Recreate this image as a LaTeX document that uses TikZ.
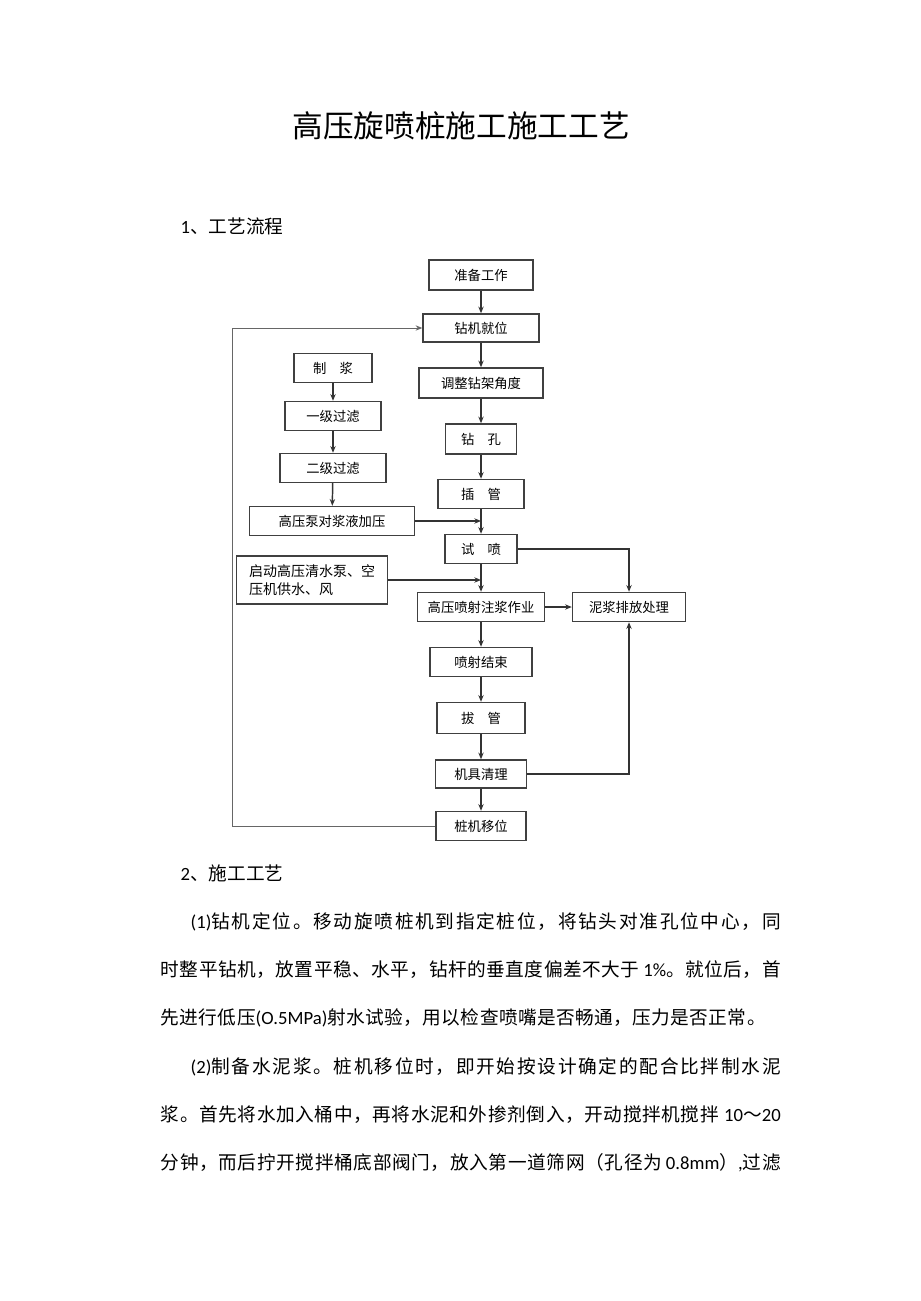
\documentclass[tikz,border=0pt]{standalone}
\usepackage{fontspec}
\usepackage{xcolor}
\usepackage{tikz}
\usetikzlibrary{arrows.meta}

\setmainfont{Noto Sans CJK SC}
\newfontfamily\latfont{Carlito}

% 汉字归为一类, 字间加可伸缩的空隙 (用于两端对齐)
\newcount\cjkcode
\cjkcode="3000
\loop \XeTeXcharclass\cjkcode=1 \advance\cjkcode by 1 \ifnum\cjkcode<"A000 \repeat
\cjkcode="FF00
\loop \XeTeXcharclass\cjkcode=1 \advance\cjkcode by 1 \ifnum\cjkcode<"FFF0 \repeat
\XeTeXinterchartokenstate=1
\newcommand\chargap[2]{\XeTeXinterchartoks #1 #2 = {\hskip 0pt plus 1pt\relax}}
\chargap01 \chargap10 \chargap11

\begin{document}
\begin{tikzpicture}[x=0.75pt, y=-0.75pt, line width=1.1pt,
    box/.style={draw=black!75, fill=white, inner sep=0pt, minimum height=21.75pt,
        font=\fontsize{10pt}{12pt}\selectfont},
    flow/.style={-{Stealth[length=5pt,width=4pt]}, draw=black!80},
    body/.style={anchor=west, inner sep=0pt, font=\fontsize{14pt}{17pt}\selectfont}]
    \fill[white] (0,0) rectangle (920,1301);
    \useasboundingbox (0,0) rectangle (920,1301);

    % 标题
    \node[inner sep=0pt, font=\fontsize{23pt}{26pt}\selectfont] (title) at (460,126)
        {\makebox[251.25pt][s]{高压旋喷桩施工施工工艺}};
    \node[body] (sec1) at (180,226) {{\latfont 1}、工艺流程};

    % 主线
    \node[box, minimum width=78pt, minimum height=22.5pt] (prep) at (481,275) {准备工作};
    \node[box, minimum width=87pt, minimum height=21pt] (posit) at (481,328) {钻机就位};
    \node[box, minimum width=93pt, minimum height=22.5pt] (adjust) at (481,383) {调整钻架角度};
    \node[box, minimum width=53.25pt, minimum height=22.5pt] (drill) at (481,439) {钻　孔};
    \node[box, minimum width=64.5pt] (insert) at (481,494) {插　管};
    \node[box, minimum width=54pt] (trial) at (481,549) {试　喷};
    \node[box, minimum width=95.25pt] (grout) at (481,607) {高压喷射注浆作业};
    \node[box, minimum width=76.5pt] (endjet) at (481,662) {喷射结束};
    \node[box, minimum width=66pt, minimum height=23.25pt] (pull) at (481,718) {拔　管};
    \node[box, minimum width=68.25pt, minimum height=21pt] (clean) at (481,774) {机具清理};
    \node[box, minimum width=67.5pt] (move) at (481,826) {桩机移位};

    % 制浆
    \node[box, minimum width=58.5pt] (mix) at (333,368) {制　浆};
    \node[box, minimum width=72pt] (filt1) at (333,416) {一级过滤};
    \node[box, minimum width=79.5pt] (filt2) at (333,468) {二级过滤};
    \node[box, minimum width=123.75pt] (press) at (332,521) {高压泵对浆液加压};
    \node[box, minimum width=113.25pt, minimum height=36pt, align=left,
        font=\fontsize{10.5pt}{14pt}\selectfont] (water) at (312,580)
        {启动高压清水泵、空\\压机供水、风};

    % 泥浆
    \node[box, minimum width=84.75pt] (mud) at (629,607) {泥浆排放处理};

    % 箭头
    \foreach \a/\b in {prep/posit, posit/adjust, adjust/drill, drill/insert,
        insert/trial, trial/grout, grout/endjet, endjet/pull, pull/clean, clean/move,
        mix/filt1, filt1/filt2, filt2/press}
        \draw[flow] (\a) -- (\b);
    \coordinate (j1) at (press.east -| trial.south);
    \coordinate (j2) at (water.east -| grout.north);
    \draw[flow] (press.east) -- (j1);
    \draw[flow] (water.east) -- (j2);
    \draw[flow] (trial.east) -| (mud.north);
    \draw[flow] (grout) -- (mud);
    \draw[flow] (clean.east) -| (mud.south);

    % 回到钻机就位
    \coordinate (loop) at (232,826);
    \draw[flow, draw=black!60, line width=0.7pt] (move.west) -- (loop) |- (posit.west);

    % 正文
    \node[body] (sec2) at (180,873) {{\latfont 2}、施工工艺};
    \node[body] (p1) at (190,922)
        {\makebox[442.5pt][s]{{\latfont (1)}钻机定位。移动旋喷桩机到指定桩位，将钻头对准孔位中心，同}};
    \node[body] (p2) at (160,970)
        {\makebox[465pt][s]{时整平钻机，放置平稳、水平，钻杆的垂直度偏差不大于\hspace{3pt}{\latfont 1\%}。就位后，首}};
    \node[body] (p3) at (160,1018)
        {\makebox[453.75pt][s]{先进行低压{\latfont (O.5MPa)}射水试验，用以检查喷嘴是否畅通，压力是否正常。}};
    \node[body] (p4) at (190,1067)
        {\makebox[442.5pt][s]{{\latfont (2)}制备水泥浆。桩机移位时，即开始按设计确定的配合比拌制水泥}};
    \node[body] (p5) at (160,1115)
        {\makebox[465pt][s]{浆。首先将水加入桶中，再将水泥和外掺剂倒入，开动搅拌机搅拌\hspace{4pt}{\latfont 10}〜{\latfont 20}}};
    \node[body] (p6) at (160,1163)
        {\makebox[465pt][s]{分钟，而后拧开搅拌桶底部阀门，放入第一道筛网（孔径为\hspace{3pt}{\latfont 0.8mm}）{\latfont ,}过滤}};
\end{tikzpicture}
\end{document}
